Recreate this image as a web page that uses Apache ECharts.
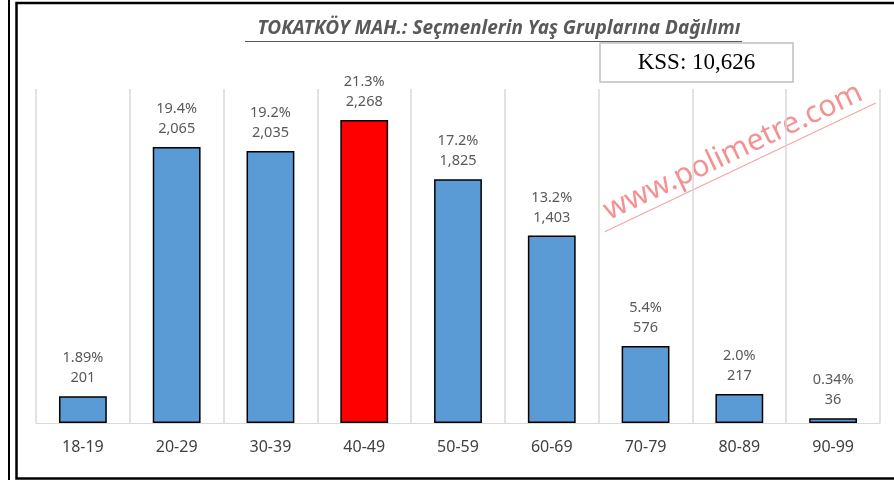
<!DOCTYPE html>
<html>
<head>
<meta charset="utf-8">
<style>
  html, body { margin: 0; padding: 0; background: #fff; }
  #main { width: 894px; height: 481px; }
</style>
</head>
<body>
<div id="main"></div>
<script src="https://cdn.jsdelivr.net/npm/echarts@6/dist/echarts.min.js"></script>
<script type="text/javascript">
    // yaş grupları ve seçmen sayıları
    var categories = ['18-19', '20-29', '30-39', '40-49', '50-59', '60-69', '70-79', '80-89', '90-99'];
    var voters = [201, 2065, 2035, 2268, 1825, 1403, 576, 217, 36];
    var percents = ['1.89%', '19.4%', '19.2%', '21.3%', '17.2%', '13.2%', '5.4%', '2.0%', '0.34%'];
    var highlight = '40-49';
    var kssText = 'KSS: 10,626';

    var myChart = echarts.init(document.getElementById('main'));

    var barData = voters.map(function (v, i) {
        return {
            value: v,
            itemStyle: { color: categories[i] === highlight ? '#FF0000' : '#5B9BD5' }
        };
    });

    var option = {
        backgroundColor: '#fff',
        animation: false,
        title: {
            text: 'TOKATKÖY MAH.: Seçmenlerin Yaş Gruplarına Dağılımı',
            left: 494,
            top: 14,
            textAlign: 'center',
            textStyle: {
                fontFamily: 'Noto Sans',
                fontSize: 19,
                fontStyle: 'italic',
                fontWeight: 'bold',
                color: '#595959'
            }
        },
        grid: {
            left: 36,
            right: 14,
            top: 89,
            bottom: 58
        },
        xAxis: {
            type: 'category',
            data: categories,
            axisLine: { lineStyle: { color: '#d9d9d9', width: 1 } },
            axisTick: { show: false },
            axisLabel: {
                margin: 16,
                fontFamily: 'Noto Sans',
                fontSize: 16,
                color: '#404040'
            },
            splitLine: {
                show: true,
                interval: 0,
                lineStyle: { color: '#d9d9d9', width: 1.5 }
            }
        },
        yAxis: {
            type: 'value',
            min: 0,
            max: 2500,
            show: false,
            splitLine: { show: false }
        },
        series: [
            {
                type: 'bar',
                data: barData,
                barWidth: '51%',
                itemStyle: {
                    borderColor: '#000',
                    borderWidth: 1.5
                },
                label: {
                    show: true,
                    position: 'top',
                    distance: 8,
                    fontFamily: 'Noto Sans',
                    fontSize: 14.5,
                    lineHeight: 20,
                    color: '#595959',
                    formatter: function (p) {
                        return percents[p.dataIndex] + '\n' + p.value.toLocaleString('en-US');
                    }
                }
            }
        ],
        graphic: [
            // dış çerçeveler
            { type: 'line', shape: { x1: 9, y1: 0, x2: 9, y2: 480 }, style: { stroke: '#000', lineWidth: 2 } },
            { type: 'rect', shape: { x: 16.5, y: 3, width: 900, height: 475.5 }, style: { fill: 'none', stroke: '#000', lineWidth: 2.5 } },
            // başlık altı çizgi
            { type: 'line', shape: { x1: 245, y1: 41.5, x2: 742, y2: 41.5 }, style: { stroke: '#595959', lineWidth: 1.2 } },
            // KSS kutusu
            { type: 'rect', shape: { x: 600, y: 43, width: 193, height: 39 }, style: { fill: '#fff', stroke: '#bfbfbf', lineWidth: 1.5 } },
            {
                type: 'text', x: 696.5, y: 63,
                style: { text: kssText, fontFamily: 'Liberation Serif', fontSize: 23, fill: '#000', textAlign: 'center', textVerticalAlign: 'middle' }
            },
            // filigran
            {
                type: 'group', x: 733, y: 152, rotation: 25.4 * Math.PI / 180, z: 100,
                children: [
                    {
                        type: 'text', x: 0, y: 0,
                        style: { text: 'www.polimetre.com', fontFamily: 'Noto Sans', fontSize: 30, fill: 'rgba(238,100,100,0.7)', textAlign: 'center', textVerticalAlign: 'middle' }
                    },
                    { type: 'line', shape: { x1: -150, y1: 17, x2: 150, y2: 17 }, style: { stroke: 'rgba(238,100,100,0.6)', lineWidth: 1 } }
                ]
            }
        ]
    };

    myChart.setOption(option);
</script>
</body>
</html>
